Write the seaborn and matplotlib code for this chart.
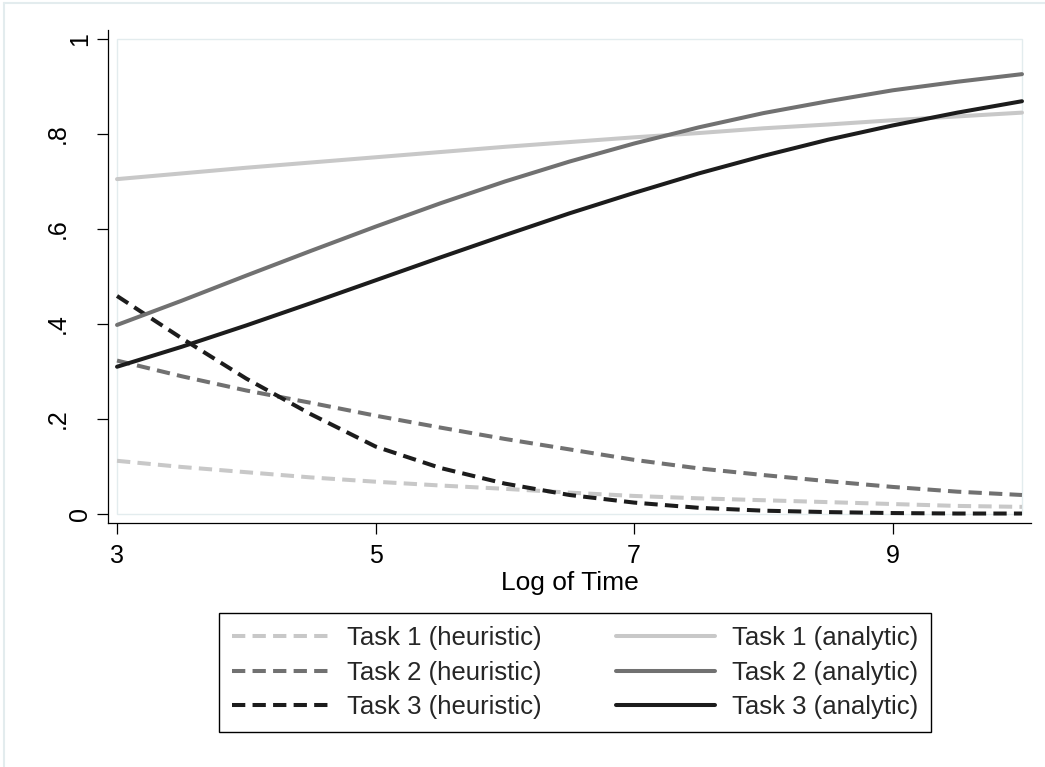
import numpy as np
import pandas as pd
import matplotlib.pyplot as plt
import matplotlib.transforms as mtrans
from matplotlib.lines import Line2D
from matplotlib.patches import Rectangle
import seaborn as sns

sns.set_theme(style="ticks")
plt.rcParams['font.family'] = ['Liberation Sans', 'DejaVu Sans']

# values
log_time = [3, 3.5, 4, 4.5, 5, 5.5, 6, 6.5, 7, 7.5, 8, 8.5, 9, 9.5, 10]

task1_heur = [.112, .099, .088, .077, .068, .060, .053, .045, .038, .033, .029, .025, .021, .017, .015]
task2_heur = [.323, .290, .260, .234, .207, .182, .158, .136, .114, .096, .082, .069, .057, .047, .040]
task3_heur = [.459, .370, .285, .210, .142, .097, .064, .040, .024, .013, .007, .004, .002, .001, .001]

task1_anal = [.705, .717, .729, .740, .751, .762, .773, .783, .793, .802, .812, .820, .829, .837, .845]
task2_anal = [.398, .449, .502, .554, .605, .654, .700, .742, .780, .814, .844, .869, .892, .910, .926]
task3_anal = [.310, .352, .397, .444, .492, .540, .587, .633, .676, .717, .754, .788, .818, .845, .869]

labels = ['Task 1 (heuristic)', 'Task 2 (heuristic)', 'Task 3 (heuristic)',
          'Task 1 (analytic)', 'Task 2 (analytic)', 'Task 3 (analytic)']
series = [task1_heur, task2_heur, task3_heur, task1_anal, task2_anal, task3_anal]

y_ticks = [0, .2, .4, .6, .8, 1]
y_ticklabels = ['0', '.2', '.4', '.6', '.8', '1']
x_ticks = [3, 5, 7, 9]

grays = ['#c8c8c8', '#717171', '#1c1c1c']

df = pd.concat([pd.DataFrame({'x': log_time, 'p': v, 'series': name})
                for name, v in zip(labels, series)], ignore_index=True)

palette = dict(zip(labels, grays * 2))
dashes = {l: ((3.3, 1.8) if 'heuristic' in l else '') for l in labels}

W, H = 1045, 767
fig = plt.figure(figsize=(W / 100, H / 100), dpi=100)
ax = fig.add_axes([108 / W, 1 - 523 / H, (1031 - 108) / W, (523 - 30) / H])

# inner plot region frame
ax.add_patch(Rectangle((3, 0), 7, 1, fill=False, edgecolor='#e3ecee', lw=1, zorder=0.5))

sns.lineplot(data=df, x='x', y='p', hue='series', style='series',
             hue_order=labels, style_order=labels, palette=palette,
             dashes=dashes, linewidth=2.9, legend=False, ax=ax)

ax.set_xlim(3 - 9 / 129, 10 + 9 / 129)
ax.set_ylim(-9 / 475, 1 + 9 / 475)
sns.despine(ax=ax)
for s in ['left', 'bottom']:
    ax.spines[s].set_color('black')
    ax.spines[s].set_linewidth(0.9)

ax.set_xticks(x_ticks)
ax.set_xticklabels([str(t) for t in x_ticks])
ax.set_yticks(y_ticks)
ax.set_yticklabels([])
ax.tick_params(axis='both', length=8, width=0.9, color='black', labelsize=18, labelcolor='black')
ax.tick_params(axis='x', pad=7)
ax.set_xlabel('Log of Time', fontsize=19, labelpad=2, color='black')
ax.set_ylabel('')

# vertical y labels, the dotted ones sit further left as in the original
base = mtrans.blended_transform_factory(ax.transAxes, ax.transData)
for val, lab in zip(y_ticks, y_ticklabels):
    dx = 43 if lab.startswith('.') else 21
    tr = base + mtrans.ScaledTranslation(-dx / 100, 0, fig.dpi_scale_trans)
    ax.text(0, val, lab, transform=tr, rotation=90, rotation_mode='anchor',
            ha='center', va='baseline', fontsize=18, color='black')

leg = fig.legend(ax.lines[:6], labels, loc='upper center',
                 bbox_to_anchor=(575 / W, 1 - 613 / H), ncol=2, fontsize=18.5,
                 frameon=True, fancybox=False, edgecolor='black', framealpha=1,
                 handlelength=3.85, handletextpad=0.65, columnspacing=2.9,
                 labelspacing=0.42, borderpad=0.5, borderaxespad=0)
leg.get_frame().set_linewidth(1.0)

# faint outer frame
fig.add_artist(Line2D([4 / W, 4 / W], [0, 1 - 3 / H], color='#e3ecee', lw=1.5))
fig.add_artist(Line2D([4 / W, 1], [1 - 3 / H, 1 - 3 / H], color='#e3ecee', lw=1.5))

fig.savefig('out.png', dpi=100)
